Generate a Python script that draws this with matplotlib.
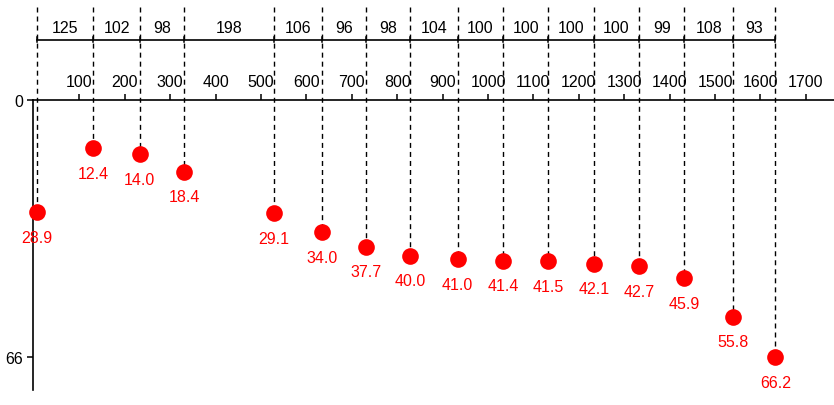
import numpy as np
import matplotlib
matplotlib.use("Agg")
import matplotlib.pyplot as plt

# distances between neighbouring stations (shown on the top bracket)
intervals = [125, 102, 98, 198, 106, 96, 98, 104, 100, 100, 100, 100, 99, 108, 93]
# first station position along the axis
start_pos = 6
# measured depths at each station
depths = [28.9, 12.4, 14.0, 18.4, 29.1, 34.0, 37.7, 40.0, 41.0, 41.4, 41.5,
          42.1, 42.7, 45.9, 55.8, 66.2]
x_ticks = list(range(100, 1800, 100))
y_ticks = [0, 66]

positions = np.concatenate([[start_pos], start_pos + np.cumsum(intervals)])

plt.rcParams['font.family'] = ['Liberation Sans', 'DejaVu Sans']

W, H = 834, 406
fig = plt.figure(figsize=(W / 100, H / 100), dpi=100)
ax = fig.add_axes([33 / W, 1 - 390.7 / H, (W - 33) / W, (390.7 - 101) / H])

ax.set_xlim(-2.2, 1762)
ax.set_ylim(74.5, 0)

for side in ['right', 'bottom']:
    ax.spines[side].set_visible(False)
for side in ['left', 'top']:
    ax.spines[side].set_linewidth(1.2)
    ax.spines[side].set_color('black')

ax.xaxis.tick_top()
ax.set_xticks(x_ticks)
ax.set_xticklabels([str(t) for t in x_ticks])
ax.set_yticks(y_ticks)
ax.set_yticklabels([str(t) for t in y_ticks])
ax.tick_params(axis='x', direction='out', length=4.5, width=1.1, pad=3.5, labelsize=11.5)
ax.tick_params(axis='y', direction='out', length=4.5, width=1.1, pad=2.5, labelsize=11.5)

# heights above the axis (data units, y inverted)
line_top = -23.9
bracket_y = -15.5
interval_label_y = -18.6

# dashed drop lines from the top down to each station
for x, d in zip(positions, depths):
    ax.plot([x, x], [line_top, d], color='black', lw=1.0,
            dashes=(3.6, 2.9), clip_on=False, zorder=2)

# bracket line with interval labels
ax.plot([positions[0], positions[-1]], [bracket_y, bracket_y], color='black',
        lw=1.2, clip_on=False, zorder=3)
for x in positions:
    ax.plot([x, x], [bracket_y - 0.7, bracket_y + 0.7], color='black',
            lw=1.1, clip_on=False, zorder=3)
for i, dist in enumerate(intervals):
    mid = (positions[i] + positions[i + 1]) / 2
    ax.text(mid, interval_label_y, str(dist), ha='center', va='center',
            fontsize=11.5, color='black', clip_on=False)

# station markers and depth labels
ax.plot(positions, depths, 'o', color='red', markersize=12, markeredgewidth=0,
        clip_on=False, zorder=4)
for x, d in zip(positions, depths):
    ax.annotate(f"{d:.1f}", (x, d), xytext=(0, -18), textcoords='offset points',
                ha='center', va='center', fontsize=11.5, color='red',
                annotation_clip=False)

fig.savefig("out.png", dpi=100)
